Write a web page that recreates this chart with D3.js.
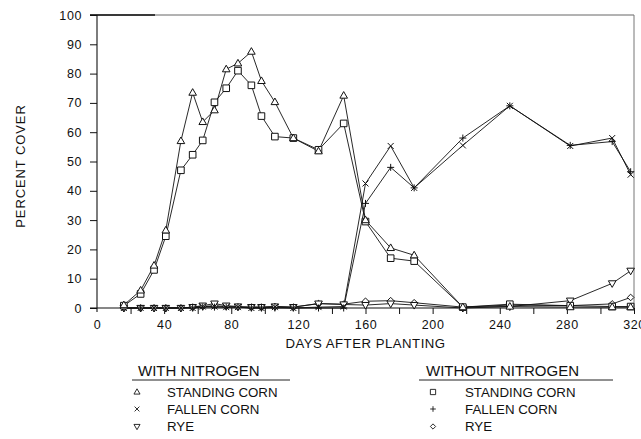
<!DOCTYPE html>
<html>
<head>
<meta charset="utf-8">
<script src="https://cdn.jsdelivr.net/npm/d3@7"></script>
<style>
  body { margin: 0; background: #fff; }
  svg { display: block; }
  text { font-family: "Liberation Sans", Arial, Helvetica, sans-serif; fill: #111; }
</style>
</head>
<body>
<svg id="chart" width="641" height="439"></svg>
<script>
// Sampling dates (days after planting)
const days = [16, 26, 34, 41, 50, 57, 63, 70, 77, 84, 92, 98, 106, 117, 132, 147, 160, 175, 189, 218, 246, 282, 307, 318];

// Percent cover, with nitrogen
const standingWithN = [1, 6, 14.5, 26.5, 57, 73.5, 63.5, 67.5, 81.5, 83.5, 87.5, 77.5, 70.3, 58, 53.5, 72.5, 30, 20.5, 18, 0.3, 0.5, 0.3, 0.3, 0.3];
const fallenWithN   = [0, 0, 0, 0, 0, 0, 0.5, 0.5, 0.3, 0.3, 0, 0, 0.3, 0, 0.3, 0.5, 42.5, 55.3, 41, 55.5, 69, 55.3, 58, 45.5];
const ryeWithN      = [0, 0, 0, 0, 0, 0.3, 0.8, 1.5, 0.8, 0.5, 0.3, 0.3, 0.5, 0.3, 1.5, 1.2, 1.0, 1.5, 1.0, 0, 0.5, 2.5, 8.4, 12.7];

// Percent cover, without nitrogen
const standingNoN = [0.8, 4.8, 13, 24.5, 47, 52.3, 57.2, 70.2, 75, 81, 76, 65.5, 58.5, 58, 54, 63, 29.5, 17, 16, 0.3, 1.3, 0.8, 0.5, 0.5];
const fallenNoN   = [0, 0, 0, 0, 0, 0, 0.3, 0.3, 0.3, 0.3, 0, 0, 0, 0, 0, 0, 35.7, 48, 41, 58, 69, 55.5, 56.8, 46.5];
const ryeNoN      = [0, 0, 0, 0, 0, 0.3, 0.5, 0.8, 0.5, 0.3, 0.3, 0.3, 0.5, 0.3, 1.5, 1.3, 2.3, 2.5, 1.8, 0.3, 1.0, 0.8, 1.4, 3.6];

// Axis ticks
const xTicks = [0, 20, 40, 60, 80, 100, 120, 140, 160, 180, 200, 220, 240, 260, 280, 300, 320];
const xTickLabels = [0, 40, 80, 120, 160, 200, 240, 280, 320];
const yTicks = [0, 10, 20, 30, 40, 50, 60, 70, 80, 90, 100];

const groupTitles = ["WITH NITROGEN", "WITHOUT NITROGEN"];
const seriesNames = ["STANDING CORN", "FALLEN CORN", "RYE"];

(function draw() {
  const svg = d3.select("#chart");
  const plotLeft = 97, plotRight = 634, plotTop = 15, plotBottom = 308;

  const x = d3.scaleLinear().domain([0, 320]).range([plotLeft, plotRight]);
  const y = d3.scaleLinear().domain([0, 100]).range([plotBottom, plotTop]);

  // Marker shapes
  const shapes = {
    triUp:   { d: "M0,-4L3.8,2.6L-3.8,2.6Z", fill: "#fff" },
    triDown: { d: "M0,4L3.8,-2.6L-3.8,-2.6Z", fill: "#fff" },
    square:  { d: "M-3.3,-3.3H3.3V3.3H-3.3Z", fill: "#fff" },
    cross:   { d: "M-3,-3L3,3M-3,3L3,-3", fill: "none" },
    plus:    { d: "M-3.5,0H3.5M0,-3.5V3.5", fill: "none" },
    diamond: { d: "M0,-3.3L3.3,0L0,3.3L-3.3,0Z", fill: "#fff" }
  };

  const series = [
    { values: ryeNoN, shape: "diamond" },
    { values: ryeWithN, shape: "triDown" },
    { values: fallenNoN, shape: "plus" },
    { values: fallenWithN, shape: "cross" },
    { values: standingNoN, shape: "square" },
    { values: standingWithN, shape: "triUp" }
  ];

  // Frame: top and right edges
  svg.append("line").attr("x1", plotLeft - 7).attr("x2", plotRight).attr("y1", plotTop).attr("y2", plotTop)
    .attr("stroke", "#666").attr("stroke-width", 1);
  svg.append("line").attr("x1", plotLeft - 7).attr("x2", plotLeft + 58).attr("y1", plotTop).attr("y2", plotTop)
    .attr("stroke", "#111").attr("stroke-width", 1.4);
  svg.append("line").attr("x1", plotRight).attr("x2", plotRight).attr("y1", plotTop).attr("y2", plotBottom)
    .attr("stroke", "#777").attr("stroke-width", 1);

  // Y axis
  const yAxis = svg.append("g").attr("transform", `translate(${plotLeft},0)`)
    .call(d3.axisLeft(y).tickValues(yTicks).tickSize(7).tickPadding(8).tickFormat(d3.format("d")));
  yAxis.select(".domain").remove();
  yAxis.append("line").attr("x1", 0).attr("x2", 0).attr("y1", plotTop).attr("y2", plotBottom + 4)
    .attr("stroke", "#111").attr("stroke-width", 1.1);
  yAxis.selectAll(".tick line").attr("stroke", "#111");
  yAxis.selectAll("text").style("font-size", "12.5px").style("letter-spacing", "0.6px")
    .attr("fill", "#111").attr("font-family", null);

  // X axis
  const xAxis = svg.append("g").attr("transform", `translate(0,${plotBottom})`)
    .call(d3.axisBottom(x).tickValues(xTicks).tickSize(6).tickPadding(6)
      .tickFormat(d => xTickLabels.includes(d) ? d : ""));
  xAxis.select(".domain").remove();
  xAxis.append("line").attr("x1", plotLeft - 7).attr("x2", plotRight).attr("y1", 0).attr("y2", 0)
    .attr("stroke", "#111").attr("stroke-width", 1.1);
  xAxis.selectAll(".tick line").attr("stroke", "#111");
  xAxis.selectAll(".tick").filter(d => d === 0).select("line").remove();
  xAxis.selectAll("text").style("font-size", "12.5px").style("letter-spacing", "0.6px")
    .attr("fill", "#111").attr("font-family", null);

  // Axis titles
  svg.append("text").attr("x", (plotLeft + plotRight) / 2).attr("y", 348)
    .attr("text-anchor", "middle").style("font-size", "13.2px").style("letter-spacing", "0.5px")
    .text("DAYS AFTER PLANTING");
  svg.append("text").attr("transform", "translate(25,166) rotate(-90)")
    .attr("text-anchor", "middle").style("font-size", "13px").style("letter-spacing", "0.9px")
    .text("PERCENT COVER");

  // Series lines and markers
  const line = d3.line().x((d, i) => x(days[i])).y(d => y(d));
  series.forEach(s => {
    svg.append("path").datum(s.values).attr("d", line)
      .attr("fill", "none").attr("stroke", "#111").attr("stroke-width", 0.9);
  });
  series.forEach(s => {
    const sh = shapes[s.shape];
    svg.append("g").selectAll("path").data(s.values).join("path")
      .attr("transform", (d, i) => `translate(${x(days[i])},${y(d)})`)
      .attr("d", sh.d).attr("fill", sh.fill).attr("stroke", "#111").attr("stroke-width", 1);
  });

  // Legend
  const legendGroups = [
    { title: groupTitles[0], tx: 138, lx1: 132, lx2: 290, sx: 137, textX: 167, shapes: ["triUp", "cross", "triDown"] },
    { title: groupTitles[1], tx: 426, lx1: 419, lx2: 613, sx: 433, textX: 465, shapes: ["square", "plus", "diamond"] }
  ];
  const rowY = [396.5, 413.5, 431];
  legendGroups.forEach(g => {
    svg.append("text").attr("x", g.tx).attr("y", 376).style("font-size", "15px").text(g.title);
    svg.append("line").attr("x1", g.lx1).attr("x2", g.lx2).attr("y1", 380).attr("y2", 380)
      .attr("stroke", "#222").attr("stroke-width", 1);
    g.shapes.forEach((k, i) => {
      const sh = shapes[k];
      svg.append("path").attr("transform", `translate(${g.sx},${rowY[i] - 4.5}) scale(0.8)`)
        .attr("d", sh.d).attr("fill", sh.fill).attr("stroke", "#111").attr("stroke-width", 1.1);
      svg.append("text").attr("x", g.textX).attr("y", rowY[i]).style("font-size", "13.3px")
        .text(seriesNames[i]);
    });
  });
})();
</script>
</body>
</html>
